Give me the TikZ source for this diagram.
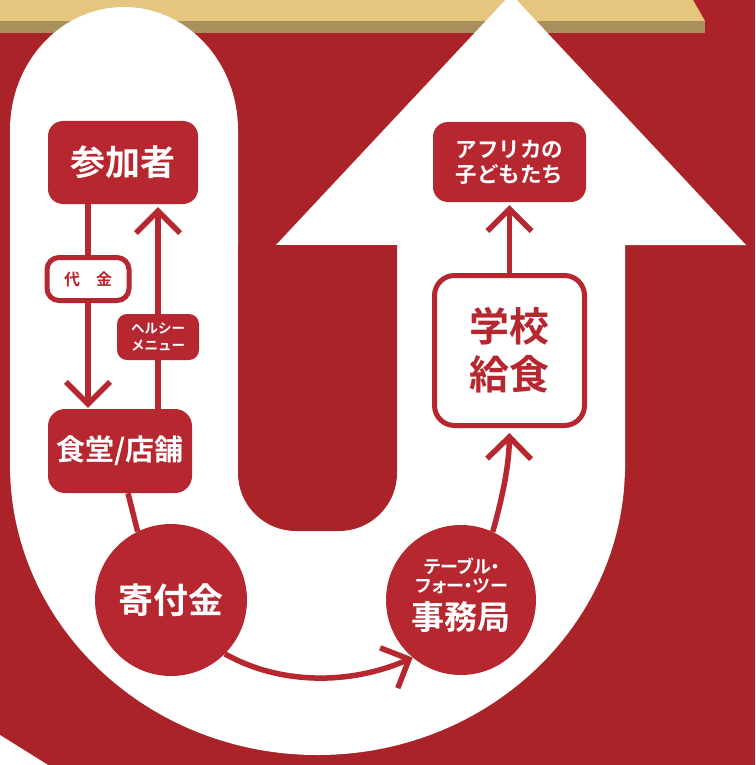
\documentclass[tikz,border=0pt]{standalone}
\usepackage{fontspec}
\setmainfont{Noto Sans CJK JP}[BoldFont={Noto Sans CJK JP Bold}]
\usetikzlibrary{arrows.meta}
\definecolor{bgred}{HTML}{AA2329}
\definecolor{nred}{HTML}{B62730}
\definecolor{goldA}{HTML}{E6C57F}
\definecolor{goldB}{HTML}{A98F5C}
\pgfdeclarelayer{bg}
\pgfdeclarelayer{lines}
\pgfsetlayers{bg,lines,main}
\begin{document}
\begin{tikzpicture}[x=1pt,y=-1pt,
  redbox/.style={fill=nred, rounded corners=#1, text=white, inner sep=0pt, align=center},
  redbox/.default=15pt,
  outbox/.style={draw=nred, line width=5pt, fill=white, rounded corners=#1, text=nred, inner sep=0pt, align=center},
  outbox/.default=12pt,
  redcirc/.style={circle, fill=nred, inner sep=0pt, text=white},
  wtext/.style={text=white, inner sep=0pt, align=center},
  flow/.style={draw=nred, line width=5.5pt},
  arr/.style={flow, -{Straight Barb[length=22pt,width=44pt]}}
]
\useasboundingbox (0,0) rectangle (755,765);
\begin{pgfonlayer}{bg}
  \fill[bgred] (0,0) rectangle (755,765);
  % gold bar
  \fill[goldA] (0,0) -- (693,0) -- (705,21) -- (0,21) -- cycle;
  \fill[goldB] (0,21) rectangle (705,33);
  % white corner bottom left
  \fill[white] (0,735) -- (48,765) -- (0,765) -- cycle;
  % white U
  \fill[white] (10,130) arc[start angle=180,end angle=0,x radius=114pt,y radius=123pt] -- (238,465) -- (10,465) -- cycle;
  \fill[white] (10,465) arc[start angle=180,end angle=360,x radius=307.5pt,y radius=290pt] -- cycle;
  \fill[white] (397,470) -- (397,245) -- (276,245) -- (511,-6) -- (746,245) -- (625,245) -- (625,470) -- cycle;
  \fill[bgred, rounded corners=58pt] (238,245) -- (238,531) -- (397,531) -- (397,245);
\end{pgfonlayer}

\node[redbox, minimum width=150pt, minimum height=83pt, font=\bfseries\fontsize{35}{40}\selectfont] (sanka) at (123,162.5) {参加者};
\node[outbox, minimum width=82pt, minimum height=43pt, font=\bfseries\fontsize{16}{18}\selectfont] (daikin) at (88,279) {代　金};
\node[redbox=10pt, minimum width=82pt, minimum height=46pt, font=\bfseries\fontsize{13.5}{17}\selectfont] (healthy) at (158,337) {ヘルシー\\メニュー};
\node[redbox=17pt, minimum width=144pt, minimum height=84pt, font=\bfseries\fontsize{29}{34}\selectfont] (shokudo) at (120,451) {食堂/店舗};
\node[redcirc, minimum size=152pt, font=\bfseries\fontsize{35}{40}\selectfont] (kifu) at (171,600) {寄付金};
\node[redcirc, minimum size=150pt] (jimu) at (461,600) {};
\node[wtext, font=\bfseries\fontsize{18}{18.5}\selectfont\addfontfeatures{RawFeature=+palt}] (jimuA) at (462,576) {テーブル・\\フォー・ツー};
\node[wtext, font=\bfseries\fontsize{33}{38}\selectfont] (jimuB) at (461,617) {事務局};
\node[outbox=20pt, minimum width=150pt, minimum height=150pt, font=\bfseries\fontsize{40}{48}\selectfont] (gakko) at (509.5,350.5) {学校\\給食};
\node[redbox, minimum width=153pt, minimum height=80pt, font=\bfseries\fontsize{21.5}{25}\selectfont] (africa) at (509.5,162) {アフリカの\\子どもたち};

\begin{pgfonlayer}{lines}
  \draw[arr, shorten >=1pt] (sanka.south -| daikin.center) -- (shokudo.north -| daikin.center);
  \draw[arr, shorten >=3pt] (shokudo.north -| healthy.center) -- (sanka.south -| healthy.center);
  \draw[flow] ([xshift=8pt]shokudo.south) -- (kifu.116);
  \draw[arr] (kifu.-45) .. controls (280,685) and (350,685) .. (jimu.230);
  \draw[arr, shorten >=5pt] (jimu.65) .. controls (503,495) and (509,465) .. (gakko.south);
  \draw[arr, shorten >=3pt] (gakko.north) -- (africa.south);
\end{pgfonlayer}
\end{tikzpicture}
\end{document}
